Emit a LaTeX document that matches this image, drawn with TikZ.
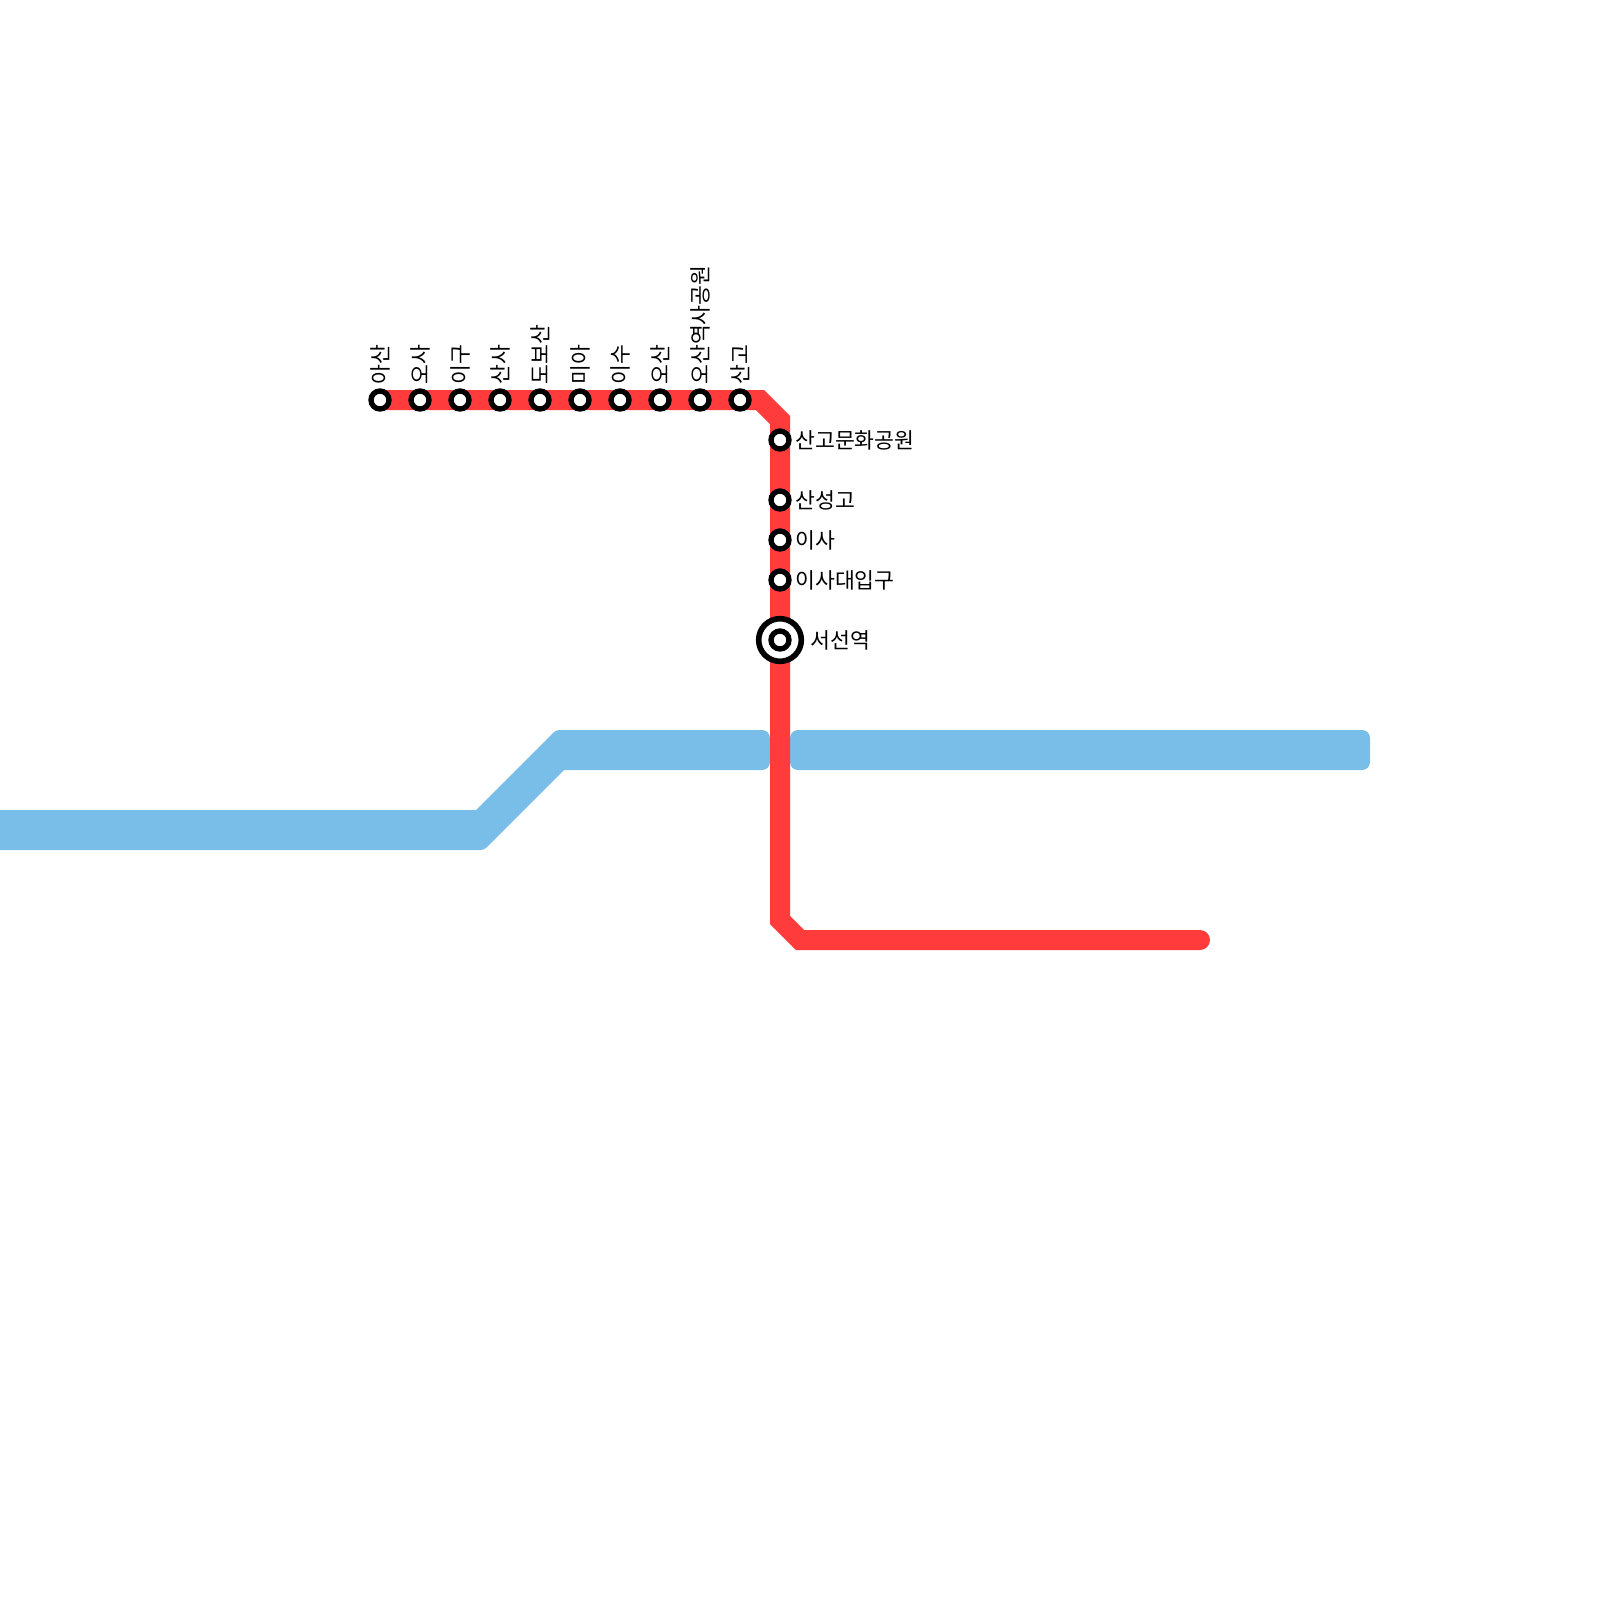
\documentclass[tikz,border=0pt]{standalone}
\usepackage{fontspec}
\setmainfont{Noto Sans CJK KR}
\definecolor{redline}{HTML}{FF3B3B}
\definecolor{blueline}{HTML}{79BDE9}
\tikzset{
 stopmark/.style={circle,draw=black,fill=white,line width=4pt,minimum size=13.5pt,inner sep=0pt,outer sep=0pt},
 bigmark/.style={circle,draw=black,fill=white,line width=4.2pt,minimum size=32pt,inner sep=0pt,outer sep=0pt},
 stoplabel/.style={font=\fontsize{16.2}{19}\selectfont,inner sep=0pt,text height=14.4pt,text depth=2pt},
 redroute/.style={draw=redline,line width=15pt,line cap=round,miter limit=10},
 blueroute/.style={fill=blueline}
}
\begin{document}
\begin{tikzpicture}[x=0.75pt,y=-0.75pt]
 \useasboundingbox (0,0) rectangle (1600,1600);
 % river, in two parts
 \fill[blueroute] (0,810) -- (476,810) [rounded corners=2.5pt] -- (556,730) [rounded corners=6pt] -- (770,730) -- (770,770) [sharp corners] -- (564,770)
   [rounded corners=2.5pt] -- (484,850) [sharp corners] -- (0,850) -- cycle;
 \fill[blueroute,rounded corners=6pt] (790,730) rectangle (1370,770);
 %
 \coordinate (lineStart) at (380,400);
 \coordinate (bendA) at (760,400);
 \coordinate (bendB) at (780,420);
 \coordinate (bendC) at (780,920);
 \coordinate (bendD) at (800,940);
 \coordinate (lineEnd) at (1200,940);
 \draw[redroute] (lineStart) -- (bendA) -- (bendB) -- (bendC) -- (bendD) -- (lineEnd);
 %
 \foreach\X/\T in {380/아산,420/오사,460/이구,500/산사,540/도보산,580/미아,620/이수,660/오산,700/오산역사공원,740/산고}
 {\node[stopmark] (stop\X) at (\X,400) {};
  \node[stoplabel,rotate=90,anchor=west] (label\X) at (\X,385) {\T};}
 \foreach\Y/\T in {440/산고문화공원,500/산성고,540/이사,580/이사대입구}
 {\node[stopmark] (stop\Y) at (780,\Y) {};
  \node[stoplabel,anchor=west] (label\Y) at (795,\Y) {\T};}
 %
 \node[bigmark] (hub) at (780,640) {};
 \node[stopmark] (hubin) at (hub) {};
 \node[stoplabel,anchor=west] (hublabel) at (810,640) {서선역};
\end{tikzpicture}
\end{document}
